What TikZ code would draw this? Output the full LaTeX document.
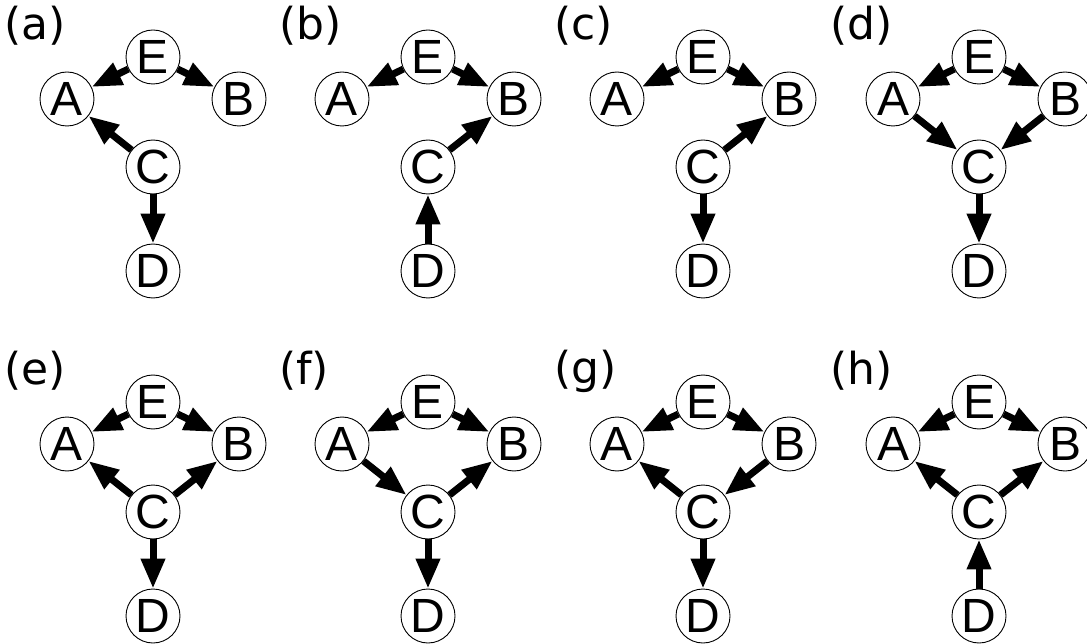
\documentclass[tikz,border=0pt]{standalone}
\usepackage{fontspec}
\usetikzlibrary{arrows.meta}
\newfontfamily\vertexfont{Liberation Sans}
\newfontfamily\captionfont{DejaVu Sans}

\tikzset{
  vnode/.style={circle, draw, line width=0.9pt, fill=white, minimum size=54pt,
    inner sep=0pt, font=\vertexfont\fontsize{48}{48}\selectfont},
  dagedge/.style={line width=7pt, -{Triangle[length=30pt,width=23pt]}},
  plabel/.style={anchor=west, inner sep=0pt, font=\captionfont\fontsize{44}{44}\selectfont},
}

% one panel: #1 name prefix, #2/#3 position of E, #4 panel letter
\newcommand{\dagpanel}[4]{%
  \node[plabel] (#1lab) at (#2-149,#3-31) {(#4)};
  \node[vnode] (#1E) at (#2,#3) {E};
  \node[vnode] (#1A) at (#2-86,#3+42) {A};
  \node[vnode] (#1B) at (#2+86,#3+42) {B};
  \node[vnode] (#1C) at (#2,#3+110) {C};
  \node[vnode] (#1D) at (#2,#3+214) {D};
  \draw[dagedge] (#1E) -- (#1A);
  \draw[dagedge] (#1E) -- (#1B);
}

\begin{document}
\begin{tikzpicture}[x=1pt, y=-1pt]
  \useasboundingbox (0,0) rectangle (1087,644);

  \dagpanel{a}{153}{57}{a}
  \draw[dagedge] (aC) -- (aA);
  \draw[dagedge] (aC) -- (aD);

  \dagpanel{b}{428}{57}{b}
  \draw[dagedge] (bC) -- (bB);
  \draw[dagedge] (bD) -- (bC);

  \dagpanel{c}{703}{57}{c}
  \draw[dagedge] (cC) -- (cB);
  \draw[dagedge] (cC) -- (cD);

  \dagpanel{d}{979}{57}{d}
  \draw[dagedge] (dA) -- (dC);
  \draw[dagedge] (dB) -- (dC);
  \draw[dagedge] (dC) -- (dD);

  \dagpanel{e}{153}{402}{e}
  \draw[dagedge] (eC) -- (eA);
  \draw[dagedge] (eC) -- (eB);
  \draw[dagedge] (eC) -- (eD);

  \dagpanel{f}{428}{402}{f}
  \draw[dagedge] (fA) -- (fC);
  \draw[dagedge] (fC) -- (fB);
  \draw[dagedge] (fC) -- (fD);

  \dagpanel{g}{703}{402}{g}
  \draw[dagedge] (gC) -- (gA);
  \draw[dagedge] (gB) -- (gC);
  \draw[dagedge] (gC) -- (gD);

  \dagpanel{h}{979}{402}{h}
  \draw[dagedge] (hC) -- (hA);
  \draw[dagedge] (hC) -- (hB);
  \draw[dagedge] (hD) -- (hC);
\end{tikzpicture}
\end{document}
